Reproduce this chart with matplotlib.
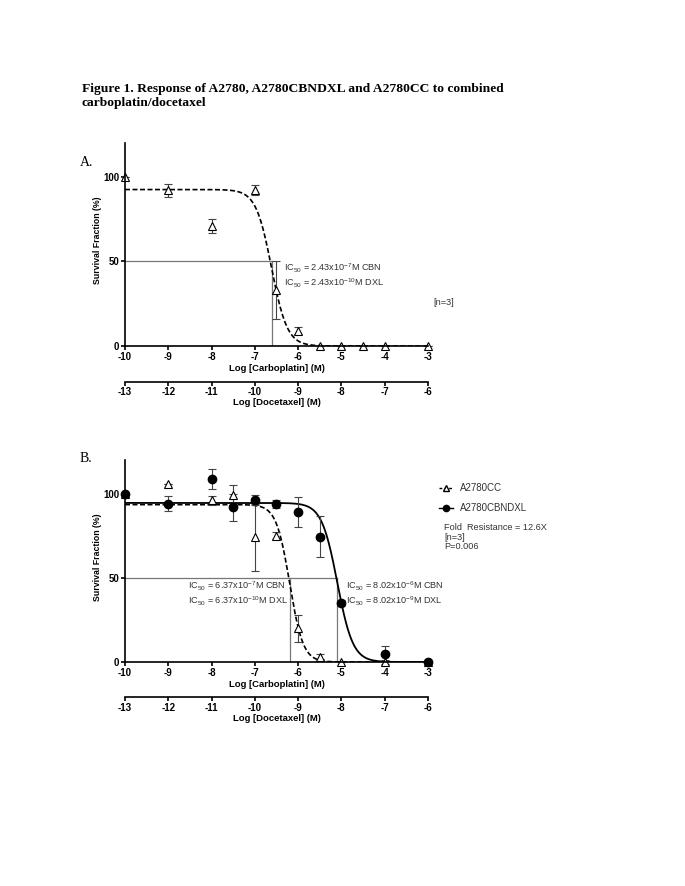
import matplotlib.pyplot as plt
import numpy as np
from matplotlib.lines import Line2D

# log [carboplatin] (M); docetaxel is carboplatin - 3
# panel A: A2780
a_x = [-10, -9, -8, -7, -6.5, -6, -5.5, -5, -4.5, -4, -3]
a_y = [100, 92, 71, 92, 33, 9, 0, 0, 0, 0, 0]
a_err = [0, 4, 4, 3, 17, 2, 0, 0, 0, 0, 0]
a_top, a_logic, a_hill = 92.5, np.log10(2.43e-7), 2.4

# panel B: A2780CC (triangles) and A2780CBNDXL (circles)
cc_x = [-10, -9, -8, -7.5, -7, -6.5, -6, -5.5, -5, -4, -3]
cc_y = [100, 106, 96, 99, 74, 75, 20, 3, 0, 0, 0]
cc_err = [0, 0, 2.5, 6, 20, 2, 8, 1.5, 0, 1, 0]
cc_top, cc_logic, cc_hill = 93.5, np.log10(6.37e-7), 2.8

dx_x = [-10, -9, -8, -7.5, -7, -6.5, -6, -5.5, -5, -4, -3]
dx_y = [100, 94, 108.5, 92, 96.5, 94, 89, 74.5, 35, 5, 0]
dx_err = [0, 4.5, 6, 8, 3, 2.5, 9, 12, 2, 4.5, 0]
dx_top, dx_logic, dx_hill = 94.5, np.log10(8.02e-6), 2.4

xticks = [-10, -9, -8, -7, -6, -5, -4, -3]
doc_ticks = [-13, -12, -11, -10, -9, -8, -7, -6]
legend_labels = ["A2780CC", "A2780CBNDXL"]


def curve(x, top, logic, hill):
    return top / (1 + 10 ** ((x - logic) * hill))


plt.rcParams["font.family"] = ["Liberation Sans", "DejaVu Sans"]
plt.rcParams["mathtext.default"] = "regular"
fig = plt.figure(figsize=(6.85, 8.86), dpi=100)
W, H = 685, 886
FT = 7      # tick labels
FL = 6.8    # axis labels
FA = 6.6    # annotations
GREY = "#333333"


def make_axes(top_px, bottom_px):
    ax = fig.add_axes([125 / W, 1 - bottom_px / H, (428 - 125) / W, (bottom_px - top_px) / H])
    ax.set_xlim(-10, -3)
    ax.set_ylim(0, 120)
    for s in ["top", "right"]:
        ax.spines[s].set_visible(False)
    for s in ["left", "bottom"]:
        ax.spines[s].set_linewidth(1.2)
    ax.set_xticks(xticks)
    ax.set_xticklabels([str(t) for t in xticks], fontweight="bold", fontsize=FT)
    ax.set_yticks([0, 50, 100])
    ax.set_yticklabels(["0", "50", "100"], fontweight="bold", fontsize=FT)
    ax.tick_params(length=3, width=1.2, pad=1)
    ax.set_xlabel("Log [Carboplatin] (M)", fontweight="bold", fontsize=FL, labelpad=2)
    ax.set_ylabel("Survival Fraction (%)", fontweight="bold", fontsize=6.3)
    ax.yaxis.set_label_coords(-0.075, 0.52)
    sec = ax.secondary_xaxis(-0.175, functions=(lambda v: v - 3, lambda v: v + 3))
    sec.spines["bottom"].set_linewidth(1.2)
    sec.set_xticks(doc_ticks)
    sec.set_xticklabels([str(t) for t in doc_ticks], fontweight="bold", fontsize=FT)
    sec.tick_params(length=3, width=1.2, pad=1)
    sec.set_xlabel("Log [Docetaxel] (M)", fontweight="bold", fontsize=FL, labelpad=1)
    return ax


def ic50_lines(ax, xs, xmax):
    ax.plot([-10, xmax], [50, 50], color="#777777", lw=0.9)
    for x in xs:
        ax.plot([x, x], [0, 50], color="#777777", lw=0.9)


xs = np.linspace(-10, -3, 600)
tri = dict(marker="^", ms=5.5, mfc="white", mec="black", mew=0.8, ls="none",
           ecolor="#444444", elinewidth=0.8, capsize=3, capthick=0.8, clip_on=False)
dot = dict(marker="o", ms=6, mfc="black", mec="black", ls="none",
           ecolor="#444444", elinewidth=0.8, capsize=3, capthick=0.8, clip_on=False)

fig.text(82 / W, 1 - 96 / H,
         "Figure 1. Response of A2780, A2780CBNDXL and A2780CC to combined\ncarboplatin/docetaxel",
         family="Liberation Serif", fontweight="bold", fontsize=9.7, va="center", linespacing=1.3)

# panel A
fig.text(80 / W, 1 - 163 / H, "A.", family="Liberation Serif", fontsize=10, va="center")
ax1 = make_axes(143, 346)
ic50_lines(ax1, [a_logic], a_logic)
ax1.plot(xs, curve(xs, a_top, a_logic, a_hill), "k--", lw=1.2, dashes=(3, 1.5))
ax1.errorbar(a_x, a_y, yerr=a_err, **tri)
ax1.text(-6.33, 46, "IC$_{50}$ = 2.43x10$^{-7}$M CBN", fontsize=FA, color=GREY, va="center")
ax1.text(-6.33, 37, "IC$_{50}$ = 2.43x10$^{-10}$M DXL", fontsize=FA, color=GREY, va="center")
ax1.text(-2.87, 26, "[n=3]", fontsize=FA, color=GREY, va="center")

# panel B
fig.text(80 / W, 1 - 458 / H, "B.", family="Liberation Serif", fontsize=10, va="center")
ax2 = make_axes(460, 662)
ic50_lines(ax2, [cc_logic, dx_logic], dx_logic)
ax2.plot(xs, curve(xs, cc_top, cc_logic, cc_hill), "k--", lw=1.2, dashes=(3, 1.5))
ax2.plot(xs, curve(xs, dx_top, dx_logic, dx_hill), "k-", lw=1.3)
ax2.errorbar(cc_x, cc_y, yerr=cc_err, **tri)
ax2.errorbar(dx_x, dx_y, yerr=dx_err, **dot)
ax2.text(-8.55, 45, "IC$_{50}$ = 6.37x10$^{-7}$M CBN", fontsize=FA, color=GREY, va="center")
ax2.text(-8.55, 36, "IC$_{50}$ = 6.37x10$^{-10}$M DXL", fontsize=FA, color=GREY, va="center")
ax2.text(-4.9, 45, "IC$_{50}$ = 8.02x10$^{-6}$M CBN", fontsize=FA, color=GREY, va="center")
ax2.text(-4.9, 36, "IC$_{50}$ = 8.02x10$^{-9}$M DXL", fontsize=FA, color=GREY, va="center")

# legend, drawn by hand in figure pixels
handles = [
    dict(ls=(0, (2, 1.5)), marker="^", ms=4.5, mfc="white"),
    dict(ls="-", marker="o", ms=4.5, mfc="black"),
]
for i, (h, lab) in enumerate(zip(handles, legend_labels)):
    yy = 1 - (488 + 20 * i) / H
    fig.add_artist(Line2D([439 / W, 446 / W, 453 / W], [yy] * 3, transform=fig.transFigure,
                          color="black", lw=1, mec="black", markevery=[1], **h))
    fig.text(460 / W, yy, lab, fontsize=7, color=GREY, va="center")
fig.text(444 / W, 1 - 537 / H, "Fold  Resistance = 12.6X\n[n=3]\nP=0.006",
         fontsize=6.6, color=GREY, va="center", linespacing=1.1)

fig.savefig("out.png", dpi=100)
